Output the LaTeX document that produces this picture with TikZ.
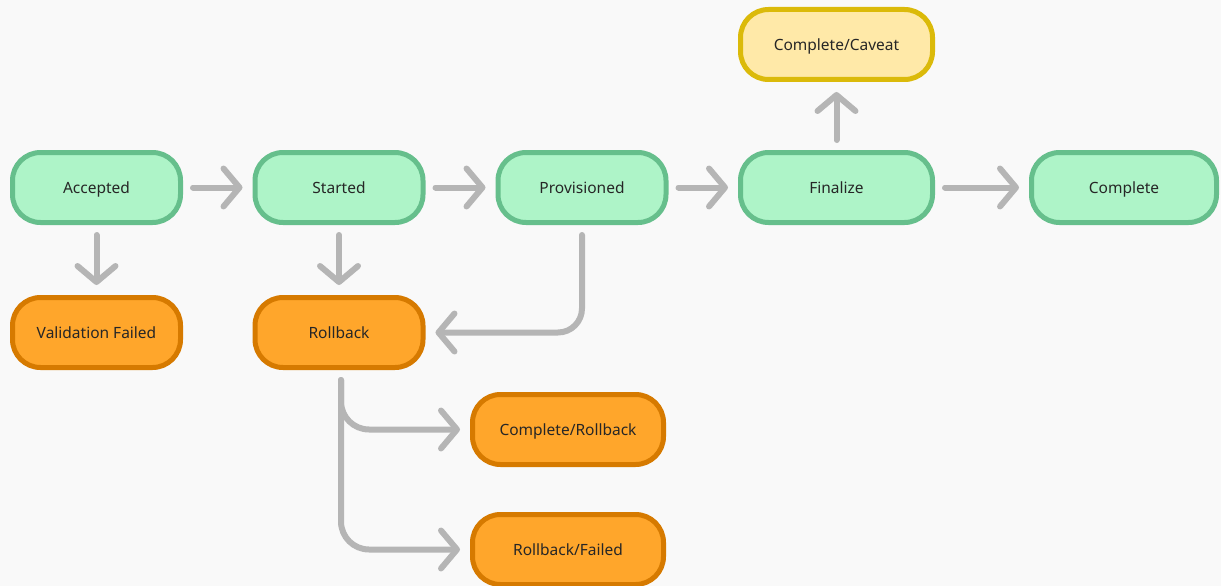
\documentclass[tikz,border=0pt]{standalone}
\usepackage{fontspec}
\setmainfont{Noto Sans}
\usetikzlibrary{arrows.meta}
\definecolor{bg}{HTML}{F9F9F9}
\definecolor{okfill}{HTML}{AEF4C8}
\definecolor{okline}{HTML}{66BF8C}
\definecolor{badfill}{HTML}{FFA62B}
\definecolor{badline}{HTML}{D67A00}
\definecolor{warnfill}{HTML}{FFE9A8}
\definecolor{warnline}{HTML}{DBBA0A}
\definecolor{flow}{HTML}{B5B5B5}
\definecolor{ink}{HTML}{262626}
\begin{document}
\begin{tikzpicture}[x=1pt,y=-1pt,
  state/.style={rounded corners=28pt, line width=5pt, minimum height=70pt,
    minimum width=168pt, inner sep=0pt, text=ink,
    text height=12pt, text depth=0pt,
    font=\fontsize{15.5}{18}\selectfont},
  ok/.style={state, draw=okline, fill=okfill},
  bad/.style={state, draw=badline, fill=badfill},
  warn/.style={state, draw=warnline, fill=warnfill},
  flowline/.style={draw=flow, line width=6pt, line cap=round,
    -{Straight Barb[length=16pt,width=38pt,round]},
    shorten <=10pt, shorten >=10pt}]
\fill[bg] (0,0) rectangle (1221,586);
\useasboundingbox (0,0) rectangle (1221,586);

% main path
\node[ok] (acc) at (96.5,187.5) {Accepted};
\node[ok] (sta) at (339,187.5) {Started};
\node[ok] (pro) at (582,187.5) {Provisioned};
\node[ok, minimum width=192pt] (fin) at (836.5,187.5) {Finalize};
\node[ok, minimum width=185pt] (com) at (1124,187.5) {Complete};
\node[warn, minimum width=192pt] (cav) at (836.5,44.5) {Complete/Caveat};

% failure states
\node[bad] (val) at (96.5,332.5) {Validation Failed};
\node[bad] (rol) at (339,332.5) {Rollback};
\node[bad, minimum width=191pt] (crb) at (568,429.5) {Complete/Rollback};
\node[bad, minimum width=191pt] (rfl) at (568,549.5) {Rollback/Failed};

% transitions
\draw[flowline] (acc) -- (sta);
\draw[flowline] (sta) -- (pro);
\draw[flowline] (pro) -- (fin);
\draw[flowline] (fin) -- (com);
\draw[flowline] (fin) -- (cav);
\draw[flowline] (acc) -- (val);
\draw[flowline] (sta) -- (rol);
\draw[flowline, rounded corners=24pt] (pro.south) |- (rol.east);
\draw[flowline, rounded corners=28pt] ([xshift=2pt]rol.south) |- (crb.west);
\draw[flowline, rounded corners=28pt] ([xshift=2pt]rol.south) |- (rfl.west);
\end{tikzpicture}
\end{document}
